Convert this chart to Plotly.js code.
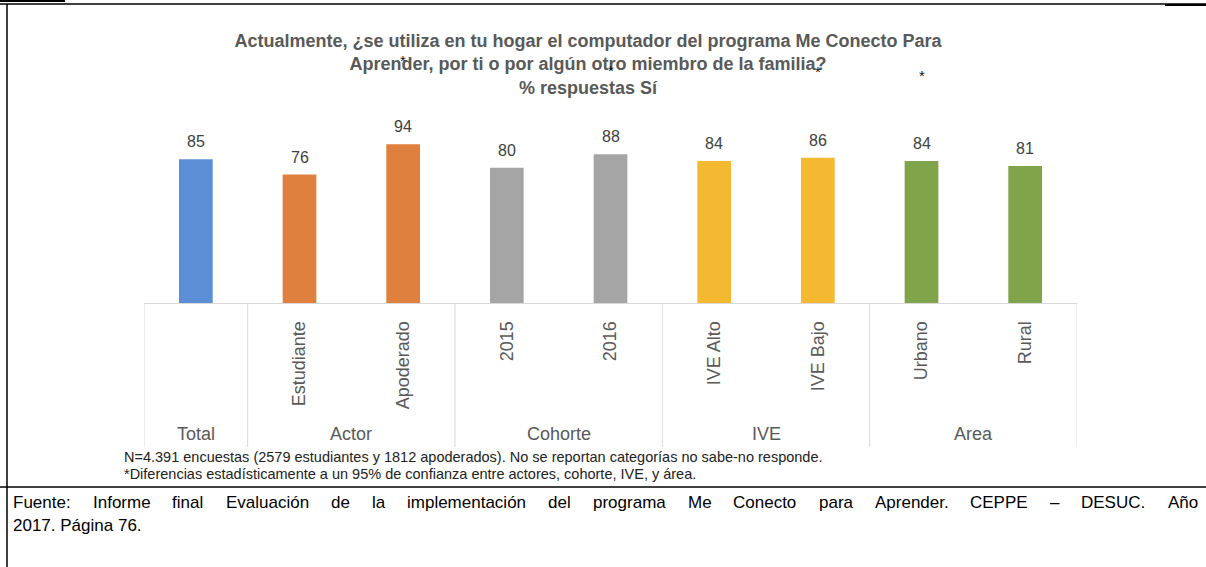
<!DOCTYPE html>
<html>
<head>
<meta charset="utf-8">
<script src="https://cdn.plot.ly/plotly-3.0.1.min.js"></script>
<style>
  html, body { margin: 0; padding: 0; background: #fff; }
  #chart { width: 1206px; height: 567px; }
</style>
</head>
<body>
<div id="chart"></div>
<script>
// chart values
const categories = ["Total", "Estudiante", "Apoderado", "2015", "2016", "IVE Alto", "IVE Bajo", "Urbano", "Rural"];
const tickLabels = ["", "Estudiante", "Apoderado", "2015", "2016", "IVE Alto", "IVE Bajo", "Urbano", "Rural"];
const values = [85, 76, 94, 80, 88, 84, 86, 84, 81];
const groups = ["Total", "Actor", "Actor", "Cohorte", "Cohorte", "IVE", "IVE", "Area", "Area"];
const starCategories = [2, 4, 6, 7]; // "*" significance marks sit above these categories

const groupColors = {Total: "#5b8ed4", Actor: "#e0803e", Cohorte: "#a5a5a5", IVE: "#f4b831", Area: "#7fa449"};

// plot area in pixels
const W = 1206, H = 567;
const plotLeft = 144, plotRight = 1077, plotTop = 134, plotBottom = 303;
const px = x => (x - plotLeft) / (plotRight - plotLeft);
const py = y => (plotBottom - y) / (plotBottom - plotTop);

const grey = "#595959";
const font = "Liberation Sans, Arial, sans-serif";

let data = [{
    type: "bar",
    x: categories,
    y: values,
    marker: {color: groups.map(g => groupColors[g])},
    width: 0.325,
    hoverinfo: "skip"
}];

let annotations = [];
let shapes = [];

// value labels (x given as category index so "2015" is not read as a number)
categories.forEach((c, i) => {
    annotations.push({
        x: i, y: values[i], xref: "x", yref: "y",
        text: String(values[i]), showarrow: false,
        yanchor: "bottom", yshift: 7,
        font: {family: font, size: 16, color: "#404040"}
    });
});

// group labels and dividers
let bounds = [-0.5];
let start = 0;
for (let i = 1; i <= groups.length; i++) {
    if (i === groups.length || groups[i] !== groups[start]) {
        annotations.push({
            x: (start + i - 1) / 2, y: py(434), xref: "x", yref: "paper",
            text: groups[start], showarrow: false, yanchor: "middle",
            font: {family: font, size: 18, color: grey}
        });
        bounds.push(i - 0.5);
        start = i;
    }
}
bounds.forEach(b => {
    shapes.push({type: "line", xref: "x", yref: "paper", x0: b, x1: b, y0: 0, y1: py(447),
        line: {color: "#d9d9d9", width: 1}});
});

// significance marks (they overlap the title in the source image)
const starY = [60, 70, 72, 75];
starCategories.forEach((c, i) => {
    annotations.push({
        x: c, y: py(starY[i]), xref: "x", yref: "paper", text: "*", showarrow: false,
        yanchor: "middle", font: {family: font, size: 15, color: "#111"}
    });
});

// notes
const notes = [
    "N=4.391 encuestas (2579 estudiantes y 1812 apoderados). No se reportan categorías no sabe-no responde.",
    "*Diferencias estadísticamente a un 95% de confianza entre actores, cohorte, IVE, y área."
];
const noteY = [457, 474];
notes.forEach((t, i) => {
    annotations.push({
        x: px(122), y: py(noteY[i]), xref: "paper", yref: "paper", text: t, showarrow: false,
        xanchor: "left", yanchor: "middle", font: {family: font, size: 14.5, color: "#222"}
    });
});

// source, first line justified between the page margins
const source = [
    "Fuente: Informe final Evaluación de la implementación del programa Me Conecto para Aprender. CEPPE – DESUC. Año",
    "2017. Página 76."
];
const sourceY = [503, 525];
const sourceSize = 17;
const ctx = document.createElement("canvas").getContext("2d");
ctx.font = sourceSize + "px Liberation Sans";
const words = source[0].split(" ");
const widths = words.map(w => ctx.measureText(w).width);
const textW = widths.reduce((a, b) => a + b, 0);
const gap = (1197 - 12 - textW) / (words.length - 1);
let cursor = 12;
words.forEach((w, i) => {
    annotations.push({
        x: px(cursor), y: py(sourceY[0]), xref: "paper", yref: "paper", text: w, showarrow: false,
        xanchor: "left", yanchor: "middle", borderpad: 0,
        font: {family: font, size: sourceSize, color: "#000"}
    });
    cursor += widths[i] + gap;
});
annotations.push({
    x: px(12), y: py(sourceY[1]), xref: "paper", yref: "paper", text: source[1], showarrow: false,
    xanchor: "left", yanchor: "middle", borderpad: 0,
    font: {family: font, size: sourceSize, color: "#000"}
});

// page frame
shapes.push({type: "line", xref: "paper", yref: "paper", x0: px(0), x1: px(W), y0: py(4), y1: py(4),
    line: {color: "#000", width: 1.5}});
shapes.push({type: "line", xref: "paper", yref: "paper", x0: px(0), x1: px(65), y0: py(1), y1: py(1),
    line: {color: "#000", width: 2}});
shapes.push({type: "line", xref: "paper", yref: "paper", x0: px(1165), x1: px(W), y0: py(5), y1: py(5),
    line: {color: "#000", width: 2}});
shapes.push({type: "line", xref: "paper", yref: "paper", x0: px(7), x1: px(7), y0: py(4), y1: py(H),
    line: {color: "#000", width: 1.5}});
shapes.push({type: "line", xref: "paper", yref: "paper", x0: px(0), x1: px(W), y0: py(487), y1: py(487),
    line: {color: "#000", width: 1.5}});

let layout = {
    width: W, height: H,
    margin: {l: plotLeft, r: W - plotRight, t: plotTop, b: H - plotBottom, pad: 0},
    paper_bgcolor: "#fff", plot_bgcolor: "#fff",
    showlegend: false,
    title: {
        text: "<b>Actualmente, ¿se utiliza en tu hogar el computador del programa Me Conecto Para<br>" +
              "Aprender, por ti o por algún otro miembro de la familia?<br>% respuestas Sí</b>",
        x: 588 / W, xref: "container", xanchor: "center",
        y: 1 - 47 / H, yref: "container", yanchor: "top",
        font: {family: font, size: 18, color: grey}
    },
    xaxis: {
        type: "category",
        range: [-0.5, categories.length - 0.5],
        tickvals: categories, ticktext: tickLabels,
        tickangle: -90,
        ticks: "", ticklabelstandoff: 10,
        tickfont: {family: font, size: 18, color: grey},
        showline: true, linecolor: "#d9d9d9", linewidth: 1,
        showgrid: false, zeroline: false, fixedrange: true
    },
    yaxis: {
        range: [0, 100], visible: false, showgrid: false, zeroline: false, fixedrange: true
    },
    annotations: annotations,
    shapes: shapes
};

Plotly.newPlot("chart", data, layout, {displayModeBar: false, staticPlot: true});
</script>
</body>
</html>
